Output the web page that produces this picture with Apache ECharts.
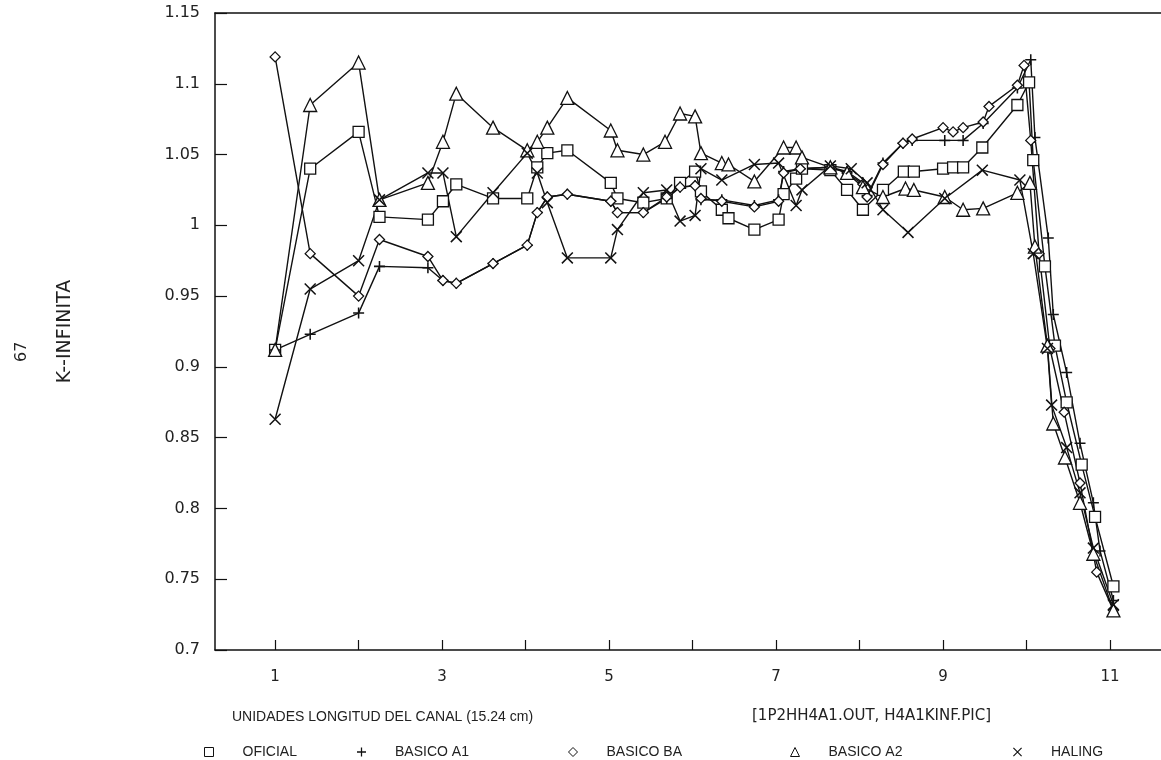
<!DOCTYPE html>
<html>
<head>
<meta charset="utf-8">
<script src="https://cdn.jsdelivr.net/npm/echarts@6/dist/echarts.min.js"></script>
<style>
html,body{margin:0;padding:0;background:#fff;}
#chart{width:1161px;height:760px;}
</style>
</head>
<body>
<div id="chart"></div>
<script>
// ---- data ----
var xTicks = [1,2,3,4,5,6,7,8,9,10,11];
var xLabels = [1,3,5,7,9,11];
var seriesNames = ['OFICIAL','BASICO A1','BASICO BA','BASICO A2','HALING'];

var oficial = [[1,0.912],[1.42,1.040],[2,1.066],[2.25,1.006],[2.83,1.004],[3.01,1.017],[3.17,1.029],[3.61,1.019],[4.02,1.019],[4.14,1.041],[4.26,1.051],[4.5,1.053],[5.02,1.030],[5.1,1.019],[5.41,1.016],[5.69,1.019],[5.85,1.030],[6.03,1.038],[6.1,1.024],[6.35,1.011],[6.43,1.005],[6.74,0.997],[7.03,1.004],[7.09,1.022],[7.24,1.033],[7.31,1.040],[7.65,1.039],[7.85,1.025],[8.04,1.011],[8.28,1.025],[8.53,1.038],[8.65,1.038],[9.0,1.040],[9.12,1.041],[9.24,1.041],[9.47,1.055],[9.89,1.085],[10.03,1.101],[10.08,1.046],[10.22,0.971],[10.34,0.915],[10.48,0.875],[10.66,0.831],[10.82,0.794],[11.04,0.745]];

var basicoA1 = [[1,0.912],[1.42,0.923],[2,0.938],[2.25,0.971],[2.83,0.970],[3.01,0.961],[3.17,0.959],[3.61,0.973],[4.02,0.986],[4.14,1.009],[4.26,1.020],[4.5,1.022],[5.02,1.017],[5.1,1.009],[5.41,1.009],[5.69,1.019],[5.85,1.027],[6.03,1.028],[6.1,1.018],[6.35,1.018],[6.74,1.014],[7.03,1.018],[7.09,1.038],[7.29,1.040],[7.65,1.041],[7.85,1.038],[8.04,1.030],[8.09,1.021],[8.28,1.044],[8.52,1.058],[8.63,1.060],[9.02,1.060],[9.24,1.060],[9.48,1.072],[9.89,1.097],[10.05,1.117],[10.1,1.062],[10.26,0.991],[10.32,0.937],[10.48,0.896],[10.64,0.846],[10.8,0.804],[10.88,0.770],[11.04,0.735]];

var basicoBA = [[1,1.119],[1.42,0.980],[2,0.950],[2.25,0.990],[2.83,0.978],[3.01,0.961],[3.17,0.959],[3.61,0.973],[4.02,0.986],[4.14,1.009],[4.26,1.020],[4.5,1.022],[5.02,1.017],[5.1,1.009],[5.41,1.009],[5.69,1.020],[5.85,1.027],[6.03,1.028],[6.1,1.019],[6.35,1.017],[6.74,1.013],[7.03,1.017],[7.09,1.037],[7.29,1.040],[7.65,1.041],[7.85,1.037],[8.04,1.029],[8.09,1.020],[8.28,1.043],[8.52,1.058],[8.63,1.061],[9.0,1.069],[9.12,1.066],[9.24,1.069],[9.48,1.073],[9.55,1.084],[9.89,1.099],[9.97,1.113],[10.05,1.060],[10.15,0.980],[10.28,0.913],[10.45,0.868],[10.64,0.818],[10.84,0.755],[11.04,0.728]];

var basicoA2 = [[1,0.912],[1.42,1.085],[2,1.115],[2.25,1.018],[2.83,1.030],[3.01,1.059],[3.17,1.093],[3.61,1.069],[4.02,1.053],[4.14,1.059],[4.26,1.069],[4.5,1.090],[5.02,1.067],[5.1,1.053],[5.41,1.050],[5.67,1.059],[5.85,1.079],[6.03,1.077],[6.1,1.051],[6.35,1.044],[6.43,1.043],[6.74,1.031],[7.09,1.055],[7.24,1.055],[7.31,1.048],[7.65,1.041],[7.85,1.037],[8.04,1.027],[8.28,1.020],[8.55,1.026],[8.65,1.025],[9.02,1.020],[9.24,1.011],[9.48,1.012],[9.89,1.023],[10.04,1.030],[10.1,0.985],[10.25,0.915],[10.32,0.860],[10.46,0.836],[10.64,0.804],[10.8,0.768],[11.04,0.728]];

var haling = [[1,0.863],[1.42,0.955],[2,0.975],[2.25,1.018],[2.83,1.037],[3.01,1.037],[3.17,0.992],[3.61,1.023],[4.02,1.051],[4.14,1.037],[4.26,1.016],[4.5,0.977],[5.02,0.977],[5.1,0.997],[5.41,1.023],[5.69,1.025],[5.85,1.003],[6.03,1.007],[6.1,1.040],[6.35,1.032],[6.74,1.043],[7.03,1.044],[7.24,1.014],[7.31,1.025],[7.65,1.042],[7.9,1.040],[8.09,1.030],[8.28,1.011],[8.58,0.995],[9.02,1.019],[9.47,1.039],[9.92,1.032],[10.08,0.980],[10.25,0.913],[10.3,0.873],[10.48,0.843],[10.64,0.811],[10.8,0.772],[11.04,0.732]];

// ---- styling ----
var INK = '#111';
var FONT = 'DejaVu Sans';
var PLUS = 'path://M0,4.3 L10,4.3 L10,5.7 L0,5.7 Z M4.3,0 L5.7,0 L5.7,10 L4.3,10 Z';
var CROSS = 'path://M0,0.9 L0.9,0 L10,9.1 L9.1,10 Z M9.1,0 L10,0.9 L0.9,10 L0,9.1 Z';
var hollow = {color:'#fff', borderColor:INK, borderWidth:1.3};
var solid = {color:INK, borderWidth:0};

var defs = [
  {name:seriesNames[0], data:oficial, symbol:'rect', size:11, item:hollow},
  {name:seriesNames[1], data:basicoA1, symbol:PLUS, size:11, item:solid},
  {name:seriesNames[2], data:basicoBA, symbol:'diamond', size:10, item:hollow},
  {name:seriesNames[3], data:basicoA2, symbol:'triangle', size:13, item:hollow},
  {name:seriesNames[4], data:haling, symbol:CROSS, size:12, item:solid}
];

var series = defs.map(function(d){
  return {
    type:'line', name:d.name, data:d.data,
    symbol:d.symbol, symbolSize:d.size, showAllSymbol:true,
    lineStyle:{color:INK, width:1.4},
    itemStyle:d.item,
    emphasis:{disabled:true},
    animation:false
  };
});

// legend: one component per item so spacing can match the reference
var legendX = [199, 352, 563, 785, 1008];
var legendIcons = ['rect', PLUS, 'diamond', 'triangle', CROSS];
var legends = defs.map(function(d,i){
  return {
    left: legendX[i], top: 740, orient:'horizontal',
    itemWidth: 9, itemHeight: 9, itemGap: 0,
    selectedMode:false,
    textStyle:{fontFamily:'Liberation Sans', fontSize:14, color:'#222', padding:[0,0,0,24]},
    data:[{name:d.name, icon:legendIcons[i], itemStyle:(d.item===hollow?{color:'#fff',borderColor:INK,borderWidth:1}:{color:INK,borderWidth:0})}]
  };
});

var chart = echarts.init(document.getElementById('chart'), null, {renderer:'canvas'});
chart.setOption({
  backgroundColor:'#fff',
  animation:false,
  grid:{left:215, top:13, right:0, bottom:110},
  xAxis:[{
    type:'value', min:0.28, max:11.61, position:'bottom',
    axisLine:{show:true, onZero:false, lineStyle:{color:INK, width:1.5}},
    axisTick:{show:true, inside:true, length:10, customValues:xTicks, lineStyle:{color:INK, width:1.2}},
    axisLabel:{show:true, customValues:xLabels, margin:20, fontFamily:FONT, fontSize:15, color:'#222'},
    splitLine:{show:false}
  },{
    type:'value', min:0.28, max:11.61, position:'top',
    axisLine:{show:true, onZero:false, lineStyle:{color:INK, width:1.5}},
    axisTick:{show:false}, axisLabel:{show:false}, splitLine:{show:false}
  }],
  yAxis:{
    type:'value', min:0.7, max:1.15, interval:0.05,
    name:'K--INFINITA', nameLocation:'middle', nameRotate:90, nameGap:140,
    nameTextStyle:{fontFamily:FONT, fontSize:19, color:'#222'},
    axisLine:{show:true, lineStyle:{color:INK, width:1.5}},
    axisTick:{show:true, inside:true, length:12, lineStyle:{color:INK, width:1.2}},
    axisLabel:{margin:15, fontFamily:FONT, fontSize:16, color:'#222',
      formatter:function(v){return String(parseFloat(v.toFixed(2)));}},
    splitLine:{show:false}
  },
  legend:legends,
  graphic:[
    {type:'text', left:232, top:710, style:{text:'UNIDADES LONGITUD DEL CANAL (15.24 cm)', font:'14px "Liberation Sans"', fill:'#222'}},
    {type:'text', left:752, top:709, style:{text:'[1P2HH4A1.OUT, H4A1KINF.PIC]', font:'15px "DejaVu Sans"', fill:'#222'}},
    {type:'text', x:14, y:362, rotation:Math.PI/2, style:{text:'67', font:'16px "DejaVu Sans"', fill:'#222'}}
  ],
  series:series
});
</script>
</body>
</html>
